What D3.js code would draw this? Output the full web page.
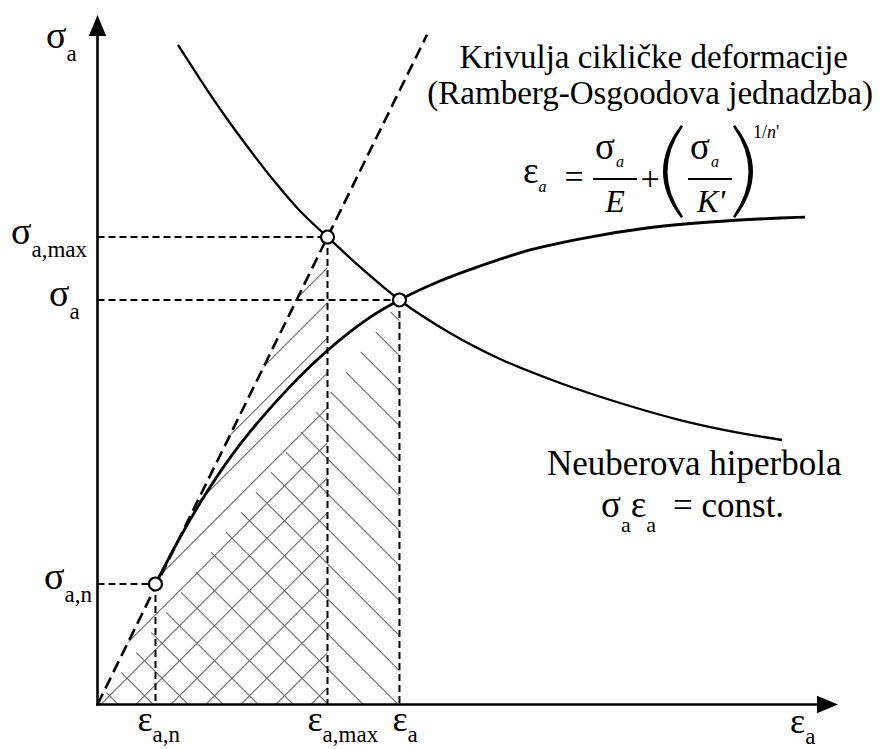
<!DOCTYPE html>
<html><head><meta charset="utf-8">
<script src="https://cdn.jsdelivr.net/npm/d3@7/dist/d3.min.js"></script>
<style>body{margin:0;background:#fff}svg{display:block}</style>
</head><body>
<script>
// ---------- data (arbitrary units) ----------
const neuberEps=[1.087,1.384,1.722,2.059,2.397,2.735,3.106,3.545,4.078,4.760,5.436,6.246,7.056,7.866,8.541,9.244];
const neuberSig=[9.572,9.078,8.541,8.048,7.583,7.162,6.785,6.350,5.871,5.392,5.014,4.666,4.376,4.129,3.969,3.839];
const cyclicEps=[0.783,1.114,1.452,1.789,2.059,2.330,2.600,2.870,3.109,3.379,3.649,4.078,4.625,5.165,5.841,6.651,7.421,8.271,9.217,9.554];
const cyclicSig=[1.749,2.424,3.039,3.579,3.956,4.298,4.614,4.904,5.141,5.383,5.598,5.871,6.147,6.364,6.597,6.785,6.916,7.003,7.061,7.075];
const elasticEps=[0,4.45];
const elasticSig=[0,9.72];
const pointKeys=["n","max","a"];
const pointEps=[0.783,3.106,4.078];
const pointSig=[1.749,6.785,5.871];
const sigmaLabelSubs=["a,n","a,max","a"];
const epsLabelSubs=["a,n","a,max","a"];
const axisSubs=["a","a"]; // y axis, x axis
const texts=["Krivulja cikličke deformacije","(Ramberg-Osgoodova jednadzba)","Neuberova hiperbola","= const."];

// ---------- setup ----------
const W=887,H=749,F="Liberation Serif";
const svg=d3.select("body").append("svg").attr("width",W).attr("height",H);
const x=d3.scaleLinear().domain([0,10]).range([97.5,838]);
const y=d3.scaleLinear().domain([0,10]).range([704.5,15.5]);
const defs=svg.append("defs");

// ---------- hatching ----------
const triA=[[0,0],[pointEps[1],0],[pointEps[1],pointSig[1]]];
const triB=[[0,0],[pointEps[2],0],[pointEps[2],pointSig[2]]];
function clip(id,tri){
  defs.append("clipPath").attr("id",id).append("polygon")
    .attr("points",tri.map(d=>[x(d[0]),y(d[1])].join(",")).join(" "));
}
clip("cA",triA);clip("cB",triB);
const step=35, base0=y(0);
const gA=svg.append("g").attr("clip-path","url(#cA)");
const gB=svg.append("g").attr("clip-path","url(#cB)");
for(let k=-30;k<=30;k++){
  const a=345.8+step*k;
  gA.append("line").attr("x1",a-900).attr("y1",base0+900).attr("x2",a+900).attr("y2",base0-900);
  const b=363.3+step*k;
  gB.append("line").attr("x1",b-900).attr("y1",base0-900).attr("x2",b+900).attr("y2",base0+900);
}
svg.selectAll("g line").attr("stroke","#6a6a6a").attr("stroke-width",1.1);

// ---------- guide dashes ----------
const guides=svg.append("g").attr("stroke","#000").attr("stroke-width",2).attr("stroke-dasharray","7,4").attr("fill","none");
pointEps.forEach((e,i)=>{
  guides.append("line").attr("x1",x(0)).attr("y1",y(pointSig[i])).attr("x2",x(e)).attr("y2",y(pointSig[i]));
  guides.append("line").attr("x1",x(e)).attr("y1",y(pointSig[i])).attr("x2",x(e)).attr("y2",y(0));
});

// ---------- curves ----------
const line=d3.line().x(d=>x(d[0])).y(d=>y(d[1]));
svg.append("path").datum(elasticEps.map((e,i)=>[e,elasticSig[i]]))
  .attr("d",line).attr("fill","none").attr("stroke","#000").attr("stroke-width",2.6).attr("stroke-dasharray","12,6");
const smooth=d3.line().x(d=>x(d[0])).y(d=>y(d[1])).curve(d3.curveMonotoneX);
svg.append("path").datum(cyclicEps.map((e,i)=>[e,cyclicSig[i]]))
  .attr("d",smooth).attr("fill","none").attr("stroke","#000").attr("stroke-width",2.8);
svg.append("path").datum(neuberEps.map((e,i)=>[e,neuberSig[i]]))
  .attr("d",smooth).attr("fill","none").attr("stroke","#000").attr("stroke-width",2.3);

// ---------- axes ----------
svg.append("line").attr("x1",x(0)).attr("y1",y(0)+1.2).attr("x2",x(0)).attr("y2",34).attr("stroke","#000").attr("stroke-width",2.6);
svg.append("line").attr("x1",x(0)-1.2).attr("y1",y(0)).attr("x2",820).attr("y2",y(0)).attr("stroke","#000").attr("stroke-width",2.6);
svg.append("polygon").attr("points",`${x(0)},15 ${x(0)-8.7},36 ${x(0)+8.7},36`).attr("fill","#000");
svg.append("polygon").attr("points",`838,${y(0)} 817,${y(0)-8.7} 817,${y(0)+8.7}`).attr("fill","#000");

// ---------- points ----------
svg.selectAll("circle.pt").data(pointEps).join("circle").attr("class","pt")
  .attr("cx",d=>x(d)).attr("cy",(d,i)=>y(pointSig[i])).attr("r",6.5)
  .attr("fill","#fff").attr("stroke","#000").attr("stroke-width",2.2);

// ---------- text helpers ----------
function txt(s,xx,yy,size,opts={}){
  const t=svg.append("text").attr("x",xx).attr("y",yy).attr("font-family",F).attr("font-size",size)
    .attr("fill","#000").text(s);
  if(opts.anchor)t.attr("text-anchor",opts.anchor);
  if(opts.italic)t.attr("font-style","italic");
  return t;
}
// glyph with subscript in a single text element
function label(g,sub,x0,base,subDy,gs,ss,dx,italicSub){
  const t=svg.append("text").attr("x",x0).attr("y",base).attr("font-family",F).attr("fill","#000");
  t.append("tspan").attr("font-size",gs).text(g);
  const s=t.append("tspan").attr("font-size",ss).attr("dx",dx).attr("dy",subDy).text(sub);
  if(italicSub)s.attr("font-style","italic");
  return t;
}

// axis titles
label("σ",axisSubs[0],46,48,13,38,23,0);
label("ε",axisSubs[1],790,733,11,36,23,0);
// sigma labels on y axis
const sigX=[44,11,49], sigDy=[5,7,6];
pointSig.forEach((s,i)=>label("σ",sigmaLabelSubs[i],sigX[i],y(s)+sigDy[i],13,38,23,0));
// epsilon labels on x axis
const epsDx=[-18,-20,-7];
pointEps.forEach((e,i)=>label("ε",epsLabelSubs[i],x(e)+epsDx[i],731,11,36,23,0));

// annotation texts
txt(texts[0],848,68,33,{anchor:"end"});
txt(texts[1],873,104,33,{anchor:"end"});
txt(texts[2],547,475,35);
// sigma_a eps_a = const.
const ne=svg.append("text").attr("x",601).attr("y",517).attr("font-family",F).attr("fill","#000");
ne.append("tspan").attr("font-size",37).text("σ");
ne.append("tspan").attr("font-size",22).attr("dy",15).text("a");
ne.append("tspan").attr("font-size",37).attr("dy",-15).text("ε");
ne.append("tspan").attr("font-size",22).attr("dy",15).text("a");
txt(texts[3],673,517,35);

// ---------- formula ----------
label("ε","a",523,183,9,37,16,0,true);
txt("=",574,188,34,{anchor:"middle"});
// first fraction
svg.append("line").attr("x1",593).attr("x2",637).attr("y1",179).attr("y2",179).attr("stroke","#000").attr("stroke-width",1.8);
label("σ","a",595,159,8,37,16,1,true);
txt("E",615,212,32,{anchor:"middle",italic:true});
txt("+",650,190,34,{anchor:"middle"});
// parentheses
svg.append("path").attr("d","M681,125 Q645,171.5 681,218 L683,216.5 Q652,171.5 683,126.5 Z").attr("fill","#000");
svg.append("path").attr("d","M735,125 Q771,171.5 735,218 L733,216.5 Q764,171.5 733,126.5 Z").attr("fill","#000");
svg.append("line").attr("x1",688).attr("x2",732).attr("y1",179).attr("y2",179).attr("stroke","#000").attr("stroke-width",1.8);
label("σ","a",690,159,8,37,16,1,true);
txt("K'",711,212,32,{anchor:"middle",italic:true});
const sup=svg.append("text").attr("x",753).attr("y",138).attr("font-family",F).attr("font-size",18);
sup.append("tspan").text("1/");
sup.append("tspan").attr("font-style","italic").text("n");
sup.append("tspan").text("'");
</script>
</body></html>
